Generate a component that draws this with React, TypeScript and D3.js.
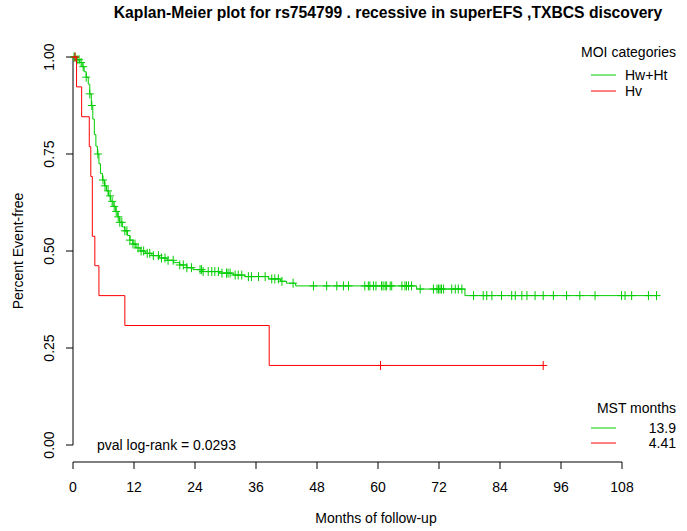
import React from "react";
import * as d3 from "d3";

const title = "Kaplan-Meier plot for rs754799 . recessive in superEFS ,TXBCS discovery";
const xTicks = [0, 12, 24, 36, 48, 60, 72, 84, 96, 108];
const yTicks = [0, 0.25, 0.5, 0.75, 1];
const yTickLabels = ["0.00", "0.25", "0.50", "0.75", "1.00"];

// Hw+Ht (green) step drops: time, survival after the drop
const greenTimes = [0, 0.8, 1.3, 1.8, 2.2, 2.6, 3.0, 3.3, 3.6, 3.9, 4.2, 4.5, 4.8, 5.1, 5.4, 5.8, 6.2, 6.6, 7.0, 7.4, 7.9, 8.4, 8.8, 9.2, 9.7, 10.2, 10.7, 11.2, 11.8, 12.4, 13.2, 14.2, 15.5, 17.0, 18.5, 19.8, 21.0, 22.4, 23.6, 25.4, 28.8, 31.5, 33.8, 38.5, 40.8, 42.0, 43.8, 67.6, 77.1];
const greenSurv = [1.0, 0.993, 0.986, 0.975, 0.962, 0.948, 0.93, 0.905, 0.875, 0.84, 0.8, 0.77, 0.75, 0.725, 0.7, 0.683, 0.668, 0.655, 0.642, 0.628, 0.615, 0.602, 0.588, 0.574, 0.562, 0.552, 0.54, 0.528, 0.518, 0.508, 0.5, 0.494, 0.488, 0.482, 0.476, 0.47, 0.464, 0.457, 0.452, 0.447, 0.443, 0.438, 0.434, 0.428, 0.422, 0.417, 0.41, 0.402, 0.385];
const greenEnd = 114.8;
const greenCensor = [0.2, 0.4, 0.8, 1.2, 1.6, 2.0, 2.6, 3.3, 3.7, 4.9, 5.9, 6.3, 6.9, 7.3, 7.7, 8.1, 8.5, 8.9, 9.2, 9.6, 10.2, 10.6, 11.2, 11.8, 12.2, 12.8, 13.4, 13.9, 14.6,
  15.1, 15.8, 16.8, 17.4, 18.1, 18.7, 19.7, 21.0, 21.7, 22.4, 23.3, 25.0, 25.3, 25.6, 26.6, 27.3, 27.9, 28.6, 29.3, 30.2, 30.5, 30.9, 31.9, 32.5, 33.2, 34.5, 35.1, 36.5, 37.8, 39.1, 39.7, 40.4, 41.1, 43.3, 47.3, 49.9, 51.9,
  53.2, 54.2, 57.4, 58.1, 58.4, 59.1, 59.6, 60.7, 61.0, 61.4, 61.7, 62.4, 62.7, 64.7, 65.3, 65.6, 66.0, 66.6, 68.3, 70.9, 71.6, 71.9, 72.2, 72.5, 72.9, 74.5, 75.2, 75.8, 76.5, 78.8, 80.7, 81.4, 82.4, 84.3, 86.3, 87.0, 88.3, 89.3, 90.9, 92.5, 94.5, 97.1, 99.7, 102.7, 107.9, 108.6, 109.9, 113.2, 114.8];

// Hv (red)
const redTimes = [0, 0.7, 1.7, 3.2, 3.5, 3.8, 4.3, 5.1, 10.2, 38.6];
const redSurv = [1.0, 0.923, 0.846, 0.769, 0.692, 0.538, 0.462, 0.385, 0.308, 0.205];
const redEnd = 92.5;
const redCensor = [0.4, 60.5, 92.5];

const groups = ["Hw+Ht", "Hv"];
const mstValues = ["13.9", "4.41"];
const colors = ["#00cd00", "#ff0000"];
const pvalText = "pval log-rank = 0.0293";

const x = d3.scaleLinear().domain([0, 108]).range([73, 622]);
const y = d3.scaleLinear().domain([0, 1]).range([445, 57]);

function survAt(times: number[], surv: number[], t: number) {
  let v = surv[0];
  for (let i = 0; i < times.length; i++) if (times[i] <= t) v = surv[i];
  return v;
}

function stepPath(times: number[], surv: number[], end: number) {
  const pts: [number, number][] = times.map((t, i) => [t, surv[i]]);
  pts.push([end, surv[surv.length - 1]]);
  return d3.line<[number, number]>().x(d => x(d[0])).y(d => y(d[1])).curve(d3.curveStepAfter)(pts) || "";
}

function marks(times: number[], surv: number[], cens: number[]) {
  return cens.map(t => {
    const cx = x(t), cy = y(survAt(times, surv, t));
    return `M${cx - 4},${cy}H${cx + 4}M${cx},${cy - 4.5}V${cy + 4.5}`;
  }).join("");
}

export default function App() {
  const font = "Liberation Sans, Arial, sans-serif";
  const fs = 14;
  return (
    <svg width={687} height={531} style={{ position: "absolute", left: 0, top: 0, background: "#fff" }} fontFamily={font}>
      <rect width={687} height={531} fill="#fff" />
      <text x={388} y={18} textAnchor="middle" fontWeight="bold" fontSize={15.7}>{title}</text>
      {/* y axis */}
      <line x1={73} x2={73} y1={y(0)} y2={y(1)} stroke="#000" />
      {yTicks.map((t, i) => (
        <g key={t}>
          <line x1={66} x2={73} y1={y(t)} y2={y(t)} stroke="#000" />
          <text transform={`translate(54,${y(t)}) rotate(-90)`} textAnchor="middle" fontSize={fs}>{yTickLabels[i]}</text>
        </g>
      ))}
      <text transform={`translate(23,251) rotate(-90)`} textAnchor="middle" fontSize={fs}>Percent Event-free</text>
      {/* x axis */}
      <line x1={x(0)} x2={x(108)} y1={462} y2={462} stroke="#000" />
      {xTicks.map(t => (
        <g key={t}>
          <line x1={x(t)} x2={x(t)} y1={462} y2={469} stroke="#000" />
          <text x={x(t)} y={492} textAnchor="middle" fontSize={fs}>{t}</text>
        </g>
      ))}
      <text x={376} y={523} textAnchor="middle" fontSize={fs}>Months of follow-up</text>
      {/* curves */}
      <path d={stepPath(greenTimes, greenSurv, greenEnd)} fill="none" stroke={colors[0]} strokeWidth={1} />
      <path d={marks(greenTimes, greenSurv, greenCensor)} fill="none" stroke={colors[0]} strokeWidth={1} />
      <path d={stepPath(redTimes, redSurv, redEnd)} fill="none" stroke={colors[1]} strokeWidth={1} />
      <path d={marks(redTimes, redSurv, redCensor)} fill="none" stroke={colors[1]} strokeWidth={1} />
      {/* legends */}
      <text x={676} y={57} textAnchor="end" fontSize={fs}>MOI categories</text>
      {groups.map((g, i) => (
        <g key={g}>
          <line x1={591} x2={616} y1={75 + i * 16} y2={75 + i * 16} stroke={colors[i]} />
          <text x={625} y={80 + i * 16} fontSize={fs}>{g}</text>
        </g>
      ))}
      <text x={676} y={413} textAnchor="end" fontSize={fs}>MST months</text>
      {mstValues.map((m, i) => (
        <g key={m}>
          <line x1={591} x2={616} y1={428 + i * 15} y2={428 + i * 15} stroke={colors[i]} />
          <text x={676} y={433 + i * 15} textAnchor="end" fontSize={fs}>{m}</text>
        </g>
      ))}
      <text x={97} y={450} fontSize={fs}>{pvalText}</text>
    </svg>
  );
}
